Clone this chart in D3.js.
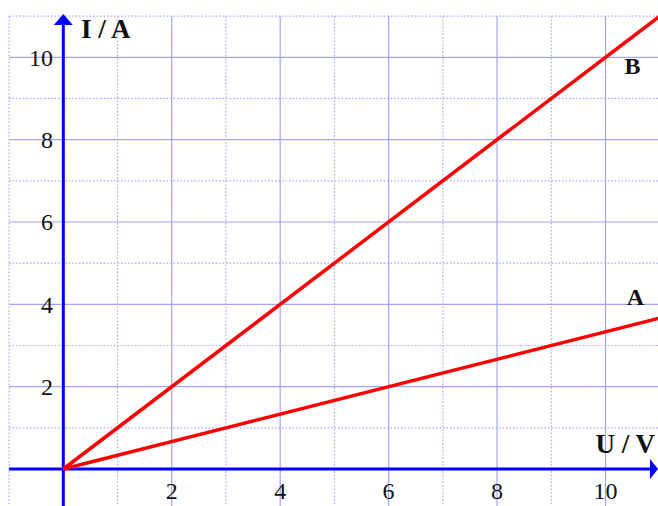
<!DOCTYPE html>
<html><head><meta charset="utf-8">
<script src="https://cdn.jsdelivr.net/npm/d3@7"></script>
<style>html,body{margin:0;padding:0;background:#fff;}svg{display:block;}</style>
</head><body>
<script>
const xTicks = [2, 4, 6, 8, 10];
const yTicks = [2, 4, 6, 8, 10];
const lineNames = ["A", "B"];
const lineU = [[0, 11], [0, 11]];
const lineI = [[0, 11 / 3], [0, 11]];
const labelPos = [[10.55, 3.98], [10.5, 9.6]];
const xLabel = "U / V";
const yLabel = "I / A";

const W = 658, H = 506;
const x = d3.scaleLinear().domain([0, 10]).range([63.3, 605.5]);
const y = d3.scaleLinear().domain([0, 10]).range([469, 57.3]);

const svg = d3.select("body").append("svg").attr("width", W).attr("height", H);
const gridColor = "#a4a4ff";

const gx = d3.range(-1, 12);
const gy = d3.range(-1, 12);
const grid = svg.append("g");
gx.forEach(v => {
  grid.append("line").attr("x1", x(v)).attr("x2", x(v)).attr("y1", y(11)).attr("y2", y(-1))
    .attr("stroke", gridColor).attr("stroke-width", 1.2)
    .attr("stroke-dasharray", v % 2 === 0 ? null : "1.5,2");
});
gy.forEach(v => {
  grid.append("line").attr("y1", y(v)).attr("y2", y(v)).attr("x1", x(-1)).attr("x2", x(11))
    .attr("stroke", gridColor).attr("stroke-width", 1.2)
    .attr("stroke-dasharray", v % 2 === 0 ? null : "1.5,2");
});

const blue = "#0000ff";
svg.append("line").attr("x1", x(-1)).attr("x2", 650).attr("y1", y(0)).attr("y2", y(0))
  .attr("stroke", blue).attr("stroke-width", 3);
svg.append("path").attr("d", `M650,${y(0)-10}L658,${y(0)}L650,${y(0)+10}Z`).attr("fill", blue);
svg.append("line").attr("x1", x(0)).attr("x2", x(0)).attr("y1", y(-1)).attr("y2", 24)
  .attr("stroke", blue).attr("stroke-width", 3);
svg.append("path").attr("d", `M${x(0)-9.5},25L${x(0)},14L${x(0)+9.5},25Z`).attr("fill", blue);

const tf = "'Liberation Serif', 'Times New Roman', serif";
svg.append("g").selectAll("text").data(xTicks).join("text")
  .attr("x", d => x(d)).attr("y", 499).attr("text-anchor", "middle")
  .attr("font-family", tf).attr("font-size", 24).attr("fill", "#111").text(d => d);
svg.append("g").selectAll("text").data(yTicks).join("text")
  .attr("x", 53).attr("y", d => y(d) + 8.5).attr("text-anchor", "end")
  .attr("font-family", tf).attr("font-size", 24).attr("fill", "#111").text(d => d);

svg.append("text").attr("x", 81).attr("y", 38).attr("font-family", tf).attr("font-size", 27)
  .attr("font-weight", "bold").attr("fill", "#111").text(yLabel);
svg.append("text").attr("x", 655).attr("y", 453).attr("text-anchor", "end").attr("font-family", tf).attr("font-size", 27)
  .attr("font-weight", "bold").attr("fill", "#111").text(xLabel);

const line = d3.line().x(d => x(d[0])).y(d => y(d[1]));
lineNames.forEach((n, i) => {
  const pts = lineU[i].map((u, j) => [u, lineI[i][j]]);
  svg.append("path").attr("d", line(pts)).attr("fill", "none").attr("stroke", "#ff0000").attr("stroke-width", 3.5);
  svg.append("text").attr("x", x(labelPos[i][0])).attr("y", y(labelPos[i][1]))
    .attr("text-anchor", "middle").attr("font-family", tf).attr("font-size", 24)
    .attr("font-weight", "bold").attr("fill", "#111").text(n);
});
</script>
</body></html>
